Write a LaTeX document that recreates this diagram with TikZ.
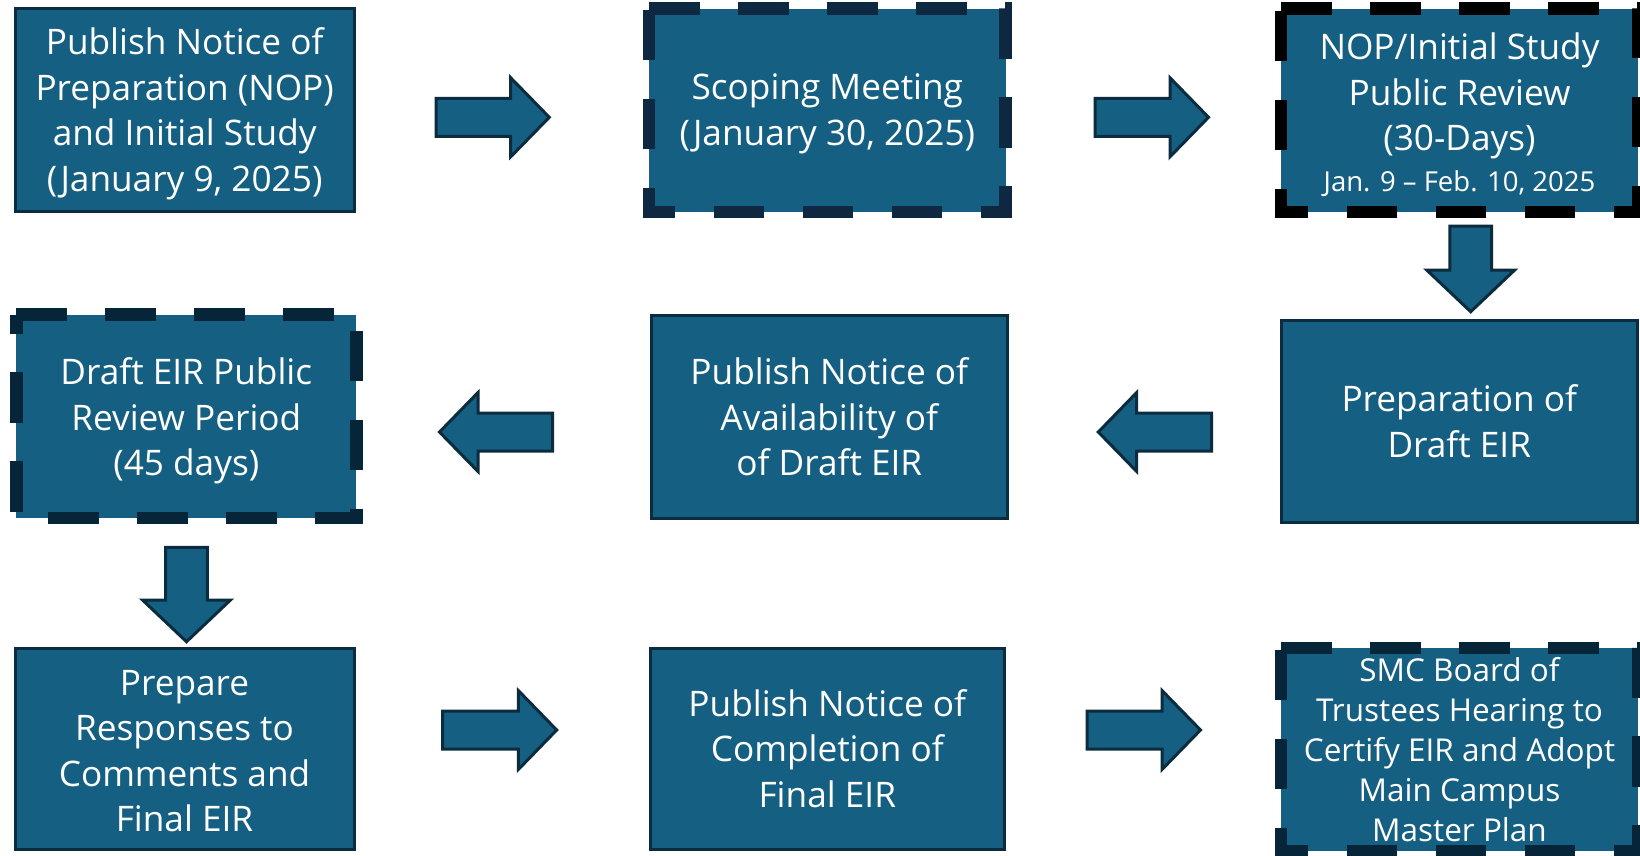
\documentclass[tikz,border=0pt]{standalone}
\usepackage{fontspec}
\setmainfont{Open Sans}
\definecolor{fillc}{HTML}{156082}
\definecolor{edge}{HTML}{0B2B3E}
\definecolor{navy}{HTML}{0E2841}
\definecolor{deep}{HTML}{062539}
\newcommand{\harrow}[4]{% tail x, tip x, centre y, head base x
  \draw[barrow] (#1,#3-19) -- (#4,#3-19) -- (#4,#3-39.5) -- (#2,#3) -- (#4,#3+39.5) -- (#4,#3+19) -- (#1,#3+19) -- cycle;}
\newcommand{\varrow}[4]{% centre x, top y, tip y, head base y
  \draw[barrow] (#1-20.8,#2) -- (#1+20.8,#2) -- (#1+20.8,#4) -- (#1+44,#4) -- (#1,#3) -- (#1-44,#4) -- (#1-20.8,#4) -- (#1-20.8,#2) -- cycle;}
\begin{document}
\begin{tikzpicture}[x=1pt,y=-1pt,
  box/.style={fill=fillc, inner sep=0pt, outer sep=0pt},
  solidbox/.style={box, draw=edge, line width=3pt},
  txt/.style={text=white, align=center, inner sep=0pt, font={\fontsize{35.2}{45.5}\selectfont}},
  dashedge/.style={line width=12.4pt, dash pattern=on 50.5pt off 38.5pt, line cap=butt, line join=miter},
  barrow/.style={fill=fillc, draw=edge, line width=3pt, line join=miter}]
\useasboundingbox (0,0) rectangle (1640,855);

% boxes
\node[solidbox, minimum width=339.3pt, minimum height=203.4pt] (b1) at (184.7,110) {};
\node[box, minimum width=356.5pt, minimum height=203.3pt] (b2) at (827.3,110.3) {};
\node[box, minimum width=357pt, minimum height=203.3pt] (b3) at (1459.5,110.3) {};
\node[solidbox, minimum width=356.5pt, minimum height=202pt] (b4) at (1459.3,421) {};
\node[solidbox, minimum width=356.5pt, minimum height=203.3pt] (b5) at (829.3,416.7) {};
\node[box, minimum width=340pt, minimum height=203.5pt] (b6) at (186.3,416.3) {};
\node[solidbox, minimum width=339pt, minimum height=201pt] (b7) at (184.5,748.5) {};
\node[solidbox, minimum width=354.5pt, minimum height=201pt] (b8) at (827.3,748.5) {};
\node[box, minimum width=357pt, minimum height=203pt] (b9) at (1459.5,749.5) {};

% texts
\node[txt] (t1) at ([yshift=-3.7pt]b1.center)
  {Publish Notice of\\Preparation (NOP)\\and Initial Study\\(January 9, 2025)};
\node[txt] (t2) at ([yshift=-3.7pt]b2.center)
  {Scoping Meeting\\(January 30, 2025)};
\node[txt] (t3) at ([yshift=-4.2pt]b3.center)
  {NOP/Initial Study\\Public Review\\(30-Days)\\[-5pt]{\fontsize{27.5}{34}\selectfont Jan. 9 – Feb. 10, 2025}};
\node[txt] (t4) at (b4.center) {Preparation of\\Draft EIR};
\node[txt] (t5) at (b5.center) {Publish Notice of\\Availability of\\of Draft EIR};
\node[txt] (t6) at ([yshift=-4.7pt]b6.center) {Draft EIR Public\\Review Period\\(45 days)};
\node[txt] (t7) at ([yshift=-2.6pt]b7.center) {Prepare\\Responses to\\Comments and\\Final EIR};
\node[txt] (t8) at (b8.center) {Publish Notice of\\Completion of\\Final EIR};
\node[txt, font={\fontsize{31.5}{40}\selectfont}] (t9) at (b9.center)
  {SMC Board of\\Trustees Hearing to\\Certify EIR and Adopt\\Main Campus\\Master Plan};

% dashed borders (clockwise from top-left)
\draw[dashedge, draw=navy] (b2.north west) -- (b2.north east) -- (b2.south east) -- (b2.south west) -- cycle;
\draw[dashedge, draw=black] (b3.north west) -- (b3.north east) -- (b3.south east) -- (b3.south west) -- cycle;
\draw[dashedge, draw=deep] (b6.north west) -- (b6.north east) -- (b6.south east) -- (b6.south west) -- cycle;
\draw[dashedge, draw=deep] (b9.north west) -- (b9.north east) -- (b9.south east) -- (b9.south west) -- cycle;

% block arrows
\harrow{436}{549.3}{117.3}{510.7}
\harrow{1095}{1208.5}{117.3}{1170}
\varrow{1470.7}{226}{311.7}{270}
\harrow{1211.7}{1098.3}{432}{1136.7}
\harrow{552.5}{439.5}{432}{478}
\varrow{186.5}{547.3}{641.7}{600}
\harrow{442.7}{556.7}{730}{518.3}
\harrow{1087}{1200.5}{730}{1162}
\end{tikzpicture}
\end{document}
